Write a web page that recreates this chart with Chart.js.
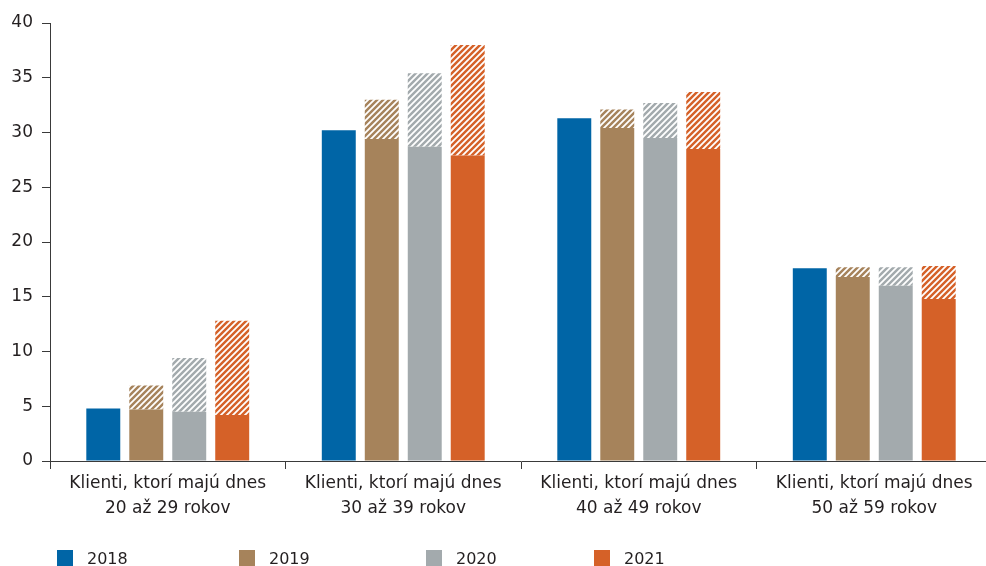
<!DOCTYPE html>
<html>
<head>
<meta charset="utf-8">
<script src="https://cdn.jsdelivr.net/npm/chart.js@4/dist/chart.umd.min.js"></script>
<style>
  html, body { margin: 0; padding: 0; background: #fff; overflow: hidden; }
  #wrap { position: relative; width: 994px; height: 566px; }
  .legend { position: absolute; top: 0; left: 0; font: 16px "DejaVu Sans", sans-serif; color: #231f20; }
  .legend span.item { position: absolute; top: 550px; white-space: nowrap; }
  .legend i { position: absolute; top: 0; left: 0; width: 16px; height: 16px; }
  .legend b { position: absolute; left: 30px; top: -2px; font-weight: normal; line-height: 22px; }
</style>
</head>
<body>
<div id="wrap">
  <canvas id="chart" width="994" height="566"></canvas>
  <div class="legend" id="legend"></div>
</div>
<script>
const groups = [
  ['Klienti, ktorí majú dnes', '20 až 29 rokov'],
  ['Klienti, ktorí majú dnes', '30 až 39 rokov'],
  ['Klienti, ktorí majú dnes', '40 až 49 rokov'],
  ['Klienti, ktorí majú dnes', '50 až 59 rokov']
];
const years = ['2018', '2019', '2020', '2021'];
const colors = ['#0065a6', '#a6835b', '#a3aaad', '#d56128'];

// solid part of each bar
const base2018 = [4.8, 30.2, 31.3, 17.6];
const base2019 = [4.7, 29.4, 30.4, 16.8];
const base2020 = [4.5, 28.7, 29.5, 16.0];
const base2021 = [4.2, 27.9, 28.5, 14.8];
// top of the hatched part
const total2019 = [6.9, 33.0, 32.1, 17.7];
const total2020 = [9.4, 35.4, 32.7, 17.7];
const total2021 = [12.8, 38.0, 33.7, 17.8];

const yTicks = [0, 5, 10, 15, 20, 25, 30, 35, 40];

const canvas = document.getElementById('chart');
const ctx = canvas.getContext('2d');

function hatch(color) {
    const size = 6;
    const tile = document.createElement('canvas');
    tile.width = size;
    tile.height = size;
    const t = tile.getContext('2d');
    t.fillStyle = color;
    t.fillRect(0, 0, size, size);
    t.strokeStyle = '#ffffff';
    t.lineWidth = 1.8;
    t.beginPath();
    t.moveTo(0, size); t.lineTo(size, 0);
    t.moveTo(-size / 2, size / 2); t.lineTo(size / 2, -size / 2);
    t.moveTo(size / 2, size * 1.5); t.lineTo(size * 1.5, size / 2);
    t.stroke();
    return ctx.createPattern(tile, 'repeat');
}

const bases = [base2018, base2019, base2020, base2021];
const totals = [null, total2019, total2020, total2021];

const datasets = [];
years.forEach((year, i) => {
    datasets.push({
        label: year,
        data: bases[i],
        backgroundColor: colors[i],
        stack: year
    });
    if (totals[i]) {
        datasets.push({
            label: year + ' hatch',
            data: totals[i].map((v, k) => +(v - bases[i][k]).toFixed(2)),
            backgroundColor: hatch(colors[i]),
            stack: year
        });
    }
});

const axisColor = '#3a3a3a';
const textColor = '#231f20';

new Chart(canvas, {
    type: 'bar',
    data: { labels: groups, datasets: datasets },
    options: {
        responsive: false,
        animation: false,
        layout: { padding: { top: 23, right: 2, bottom: 0, left: 0 } },
        datasets: {
            bar: { categoryPercentage: 0.73, barPercentage: 0.79, borderWidth: 0 }
        },
        plugins: {
            legend: { display: false },
            tooltip: { enabled: false }
        },
        scales: {
            x: {
                stacked: true,
                afterFit: (scale) => { scale.height = 105; },
                border: { color: axisColor, width: 1 },
                grid: { drawOnChartArea: false, drawTicks: true, tickLength: 8, color: axisColor, offset: true },
                ticks: {
                    color: textColor,
                    padding: 2,
                    maxRotation: 0,
                    font: { family: 'DejaVu Sans', size: 17, lineHeight: 1.49 }
                }
            },
            y: {
                stacked: true,
                min: 0,
                max: 40,
                afterFit: (scale) => { scale.width = 50; },
                afterBuildTicks: (scale) => { scale.ticks = yTicks.map(v => ({ value: v })); },
                border: { color: axisColor, width: 1 },
                grid: { drawOnChartArea: false, drawTicks: true, tickLength: 8, color: axisColor },
                ticks: {
                    color: textColor,
                    padding: 9,
                    font: { family: 'DejaVu Sans', size: 17 }
                }
            }
        }
    }
});

// legend with fixed spacing between the four years
const legendPos = [57, 239, 426, 594];
const legend = document.getElementById('legend');
years.forEach((year, i) => {
    const item = document.createElement('span');
    item.className = 'item';
    item.style.left = legendPos[i] + 'px';
    item.innerHTML = '<i style="background:' + colors[i] + '"></i><b>' + year + '</b>';
    legend.appendChild(item);
});
</script>
</body>
</html>
